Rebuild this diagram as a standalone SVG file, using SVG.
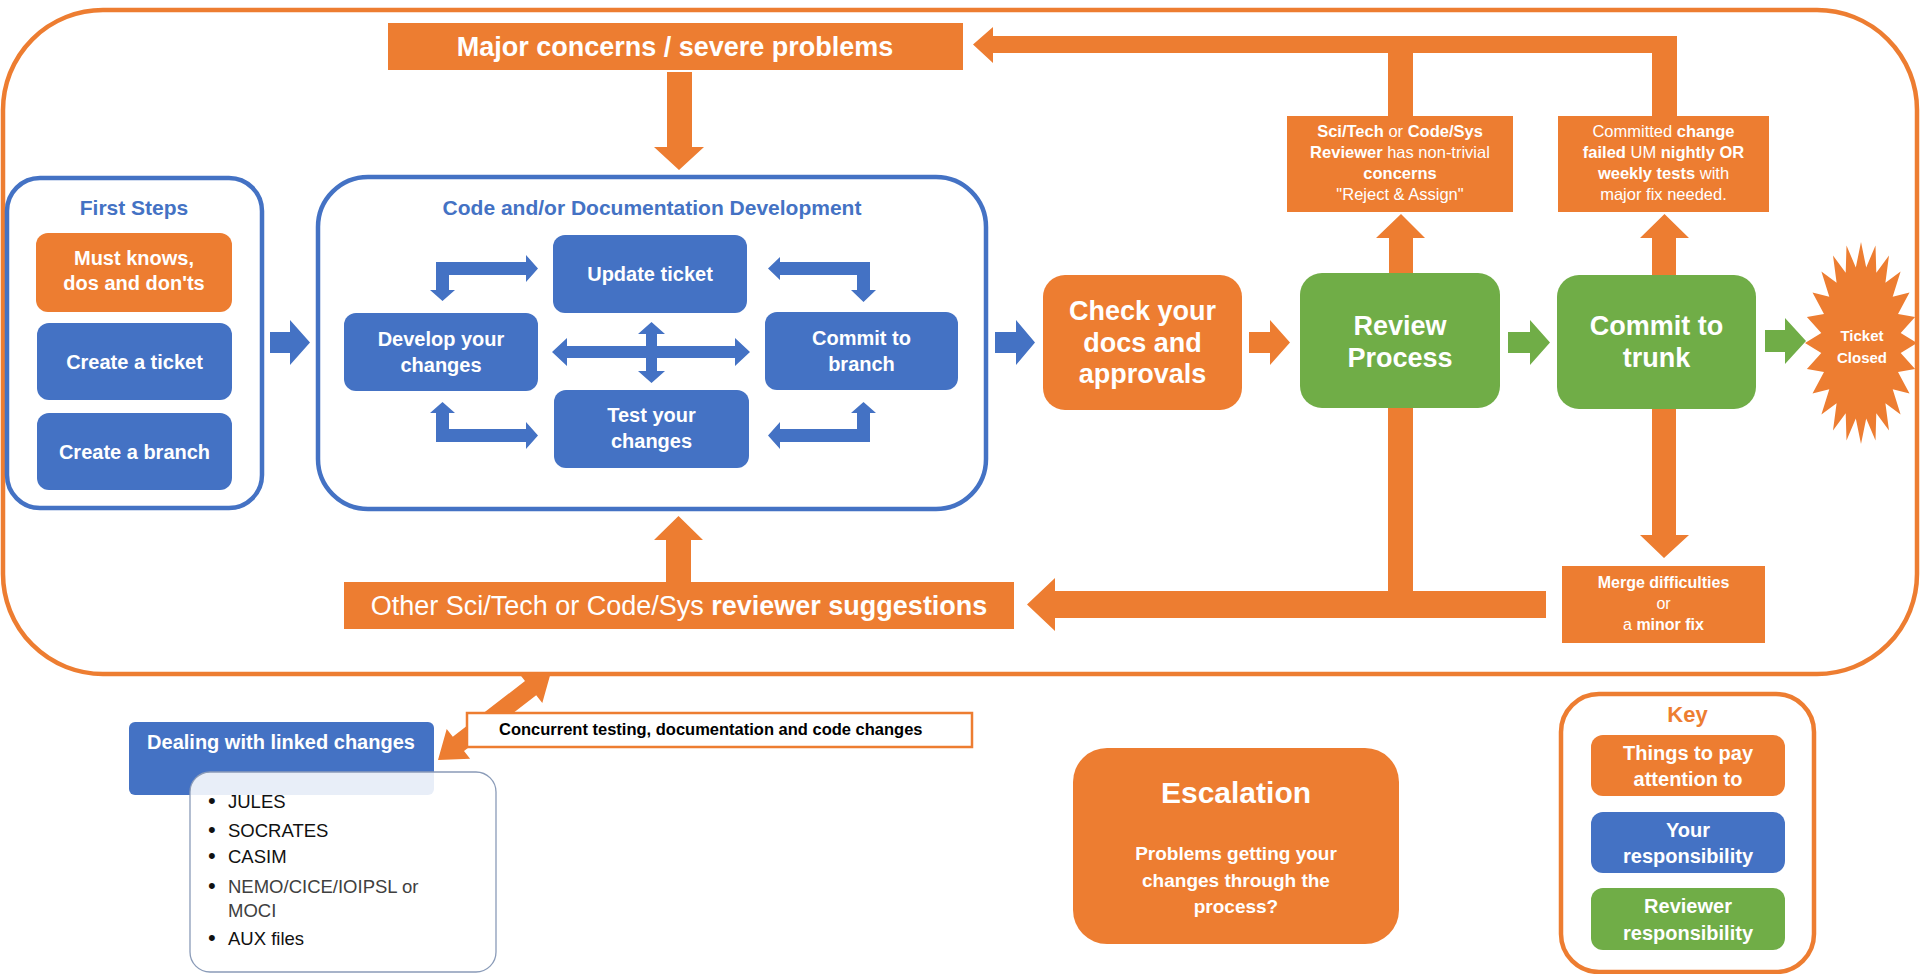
<svg xmlns="http://www.w3.org/2000/svg" width="1920" height="974" viewBox="0 0 1920 974">
<style>
.o{fill:#ED7D31}.b{fill:#4472C4}.g{fill:#70AD47}
text{font-family:"Liberation Sans",Arial,sans-serif}
.w{fill:#fff}.bd{font-weight:bold}.m{text-anchor:middle}
.frame{fill:none;stroke:#ED7D31;stroke-width:4.5}
.bframe{fill:none;stroke:#4472C4;stroke-width:4.5}
</style>
<rect width="1920" height="974" fill="#fff"/>
<rect id="outer-frame" class="frame" x="3" y="10" width="1914" height="664" rx="100"/>

<g id="connectors">
  <polygon class="o" points="667,72 692,72 692,147 704,147 679,170 654,147 667,147"/>
  <path class="o" d="M973,44.5 L993,27 L993,36 L1677,36 L1677,116 L1652,116 L1652,53 L1413,53 L1413,116 L1388,116 L1388,53 L993,53 L993,63 Z"/>
  <polygon class="o" points="1389,274 1389,238 1376,238 1401,214 1425,238 1413,238 1413,274"/>
  <polygon class="o" points="1652,276 1652,238 1640,238 1664.5,214 1689,238 1676,238 1676,276"/>
  <path class="o" d="M1027,604.5 L1055,578 L1055,591 L1388,591 L1388,406 L1413,406 L1413,591 L1546,591 L1546,618 L1055,618 L1055,631 Z"/>
  <polygon class="o" points="1652,407 1676,407 1676,535 1689,535 1664,558 1640,535 1652,535"/>
  <polygon class="o" points="666,584 666,540 654,540 678.5,516 703,540 691,540 691,584"/>
  <polygon class="b" points="270,332 290,332 290,320 310,342.5 290,365 290,353 270,353"/>
  <polygon class="b" points="995,332 1016,332 1016,320 1035,342.5 1016,365 1016,353 995,353"/>
  <polygon class="o" points="1249,332 1270,332 1270,320 1290,342.5 1270,365 1270,353 1249,353"/>
  <polygon class="g" points="1508,332 1530,332 1530,320 1550,342.5 1530,365 1530,353 1508,353"/>
  <polygon class="g" points="1765,330 1785,330 1785,318 1806,341 1785,364 1785,352 1765,352"/>
  <path class="b" d="M436,262 L526,262 L526,255 L538,268.5 L526,282 L526,275 L449,275 L449,290 L455,290 L442.5,301 L430,290 L436,290 Z"/>
  <path class="b" d="M768,268.5 L780,257 L780,262 L870,262 L870,290 L876,290 L863.5,302 L851,290 L857,290 L857,275 L780,275 L780,280 Z"/>
  <path class="b" d="M442.5,402 L455,413 L449,413 L449,429 L526,429 L526,422 L538,435.5 L526,449 L526,442 L436,442 L436,413 L430,413 Z"/>
  <path class="b" d="M768,435.5 L780,422 L780,429 L857,429 L857,413 L851,413 L863.5,402 L876,413 L870,413 L870,442 L780,442 L780,449 Z"/>
  <path class="b" d="M552,352 L567,338 L567,346 L735,346 L735,338 L750,352 L735,366 L735,358 L567,358 L567,366 Z"/>
  <path class="b" d="M651.5,322 L665,334 L657,334 L657,371 L665,371 L651.5,383 L638,371 L646,371 L646,334 L638,334 Z"/>
  <polygon class="o" points="438,760 470.1,758.8 464,751 536.2,695.2 542.3,703 551,672 518.9,673.2 525,681 452.8,736.8 446.7,729"/>
</g>

<g id="major-concerns">
  <rect class="o" x="388" y="23" width="575" height="47"/>
  <text class="w bd m" x="675" y="56" font-size="27">Major concerns / severe problems</text>
</g>

<g id="first-steps">
  <rect class="bframe" x="7" y="178" width="255" height="330" rx="33"/>
  <text class="bd m" x="134" y="215" font-size="21" fill="#4472C4">First Steps</text>
</g>
<g id="must-knows">
  <rect class="o" x="36" y="233" width="196" height="79" rx="12"/>
  <text class="w bd m" x="134" y="265" font-size="20">Must knows,</text>
  <text class="w bd m" x="134" y="290" font-size="20">dos and don'ts</text>
</g>
<g id="create-ticket">
  <rect class="b" x="37" y="323" width="195" height="77" rx="12"/>
  <text class="w bd m" x="134.5" y="368.5" font-size="20">Create a ticket</text>
</g>
<g id="create-branch">
  <rect class="b" x="37" y="413" width="195" height="77" rx="12"/>
  <text class="w bd m" x="134.5" y="458.5" font-size="20">Create a branch</text>
</g>

<g id="code-dev">
  <rect class="bframe" x="318" y="177" width="668" height="332" rx="50"/>
  <text class="bd m" x="652" y="215" font-size="21" fill="#4472C4">Code and/or Documentation Development</text>
</g>
<g id="update-ticket">
  <rect class="b" x="553" y="235" width="194" height="78" rx="12"/>
  <text class="w bd m" x="650" y="281" font-size="20">Update ticket</text>
</g>
<g id="develop">
  <rect class="b" x="344" y="313" width="194" height="78" rx="12"/>
  <text class="w bd m" x="441" y="346" font-size="20">Develop your</text>
  <text class="w bd m" x="441" y="372" font-size="20">changes</text>
</g>
<g id="commit-branch">
  <rect class="b" x="765" y="312" width="193" height="78" rx="12"/>
  <text class="w bd m" x="861.5" y="345" font-size="20">Commit to</text>
  <text class="w bd m" x="861.5" y="371" font-size="20">branch</text>
</g>
<g id="test-changes">
  <rect class="b" x="554" y="390" width="195" height="78" rx="12"/>
  <text class="w bd m" x="651.5" y="422" font-size="20">Test your</text>
  <text class="w bd m" x="651.5" y="448" font-size="20">changes</text>
</g>

<g id="check-docs">
  <rect class="o" x="1043" y="275" width="199" height="135" rx="22"/>
  <text class="w bd m" x="1142.5" y="320" font-size="27">Check your</text>
  <text class="w bd m" x="1142.5" y="352" font-size="27">docs and</text>
  <text class="w bd m" x="1142.5" y="383" font-size="27">approvals</text>
</g>
<g id="review-process">
  <rect class="g" x="1300" y="273" width="200" height="135" rx="22"/>
  <text class="w bd m" x="1400" y="335" font-size="27">Review</text>
  <text class="w bd m" x="1400" y="367" font-size="27">Process</text>
</g>
<g id="commit-trunk">
  <rect class="g" x="1557" y="275" width="199" height="134" rx="22"/>
  <text class="w bd m" x="1656.5" y="335" font-size="27">Commit to</text>
  <text class="w bd m" x="1656.5" y="367" font-size="27">trunk</text>
</g>
<g id="ticket-closed">
  <polygon class="o" points="1861,242 1866.2,267.6 1875.5,245.4 1876.3,272.8 1889,255.5 1885.4,282.7 1900.6,271.6 1892.7,296.7 1909.5,292.5 1898,313.9 1915.1,316.9 1900.7,333.1 1917,343 1900.7,352.9 1915.1,369.1 1898,372.1 1909.5,393.5 1892.7,389.3 1900.6,414.4 1885.4,403.3 1889,430.5 1876.3,413.2 1875.5,440.6 1866.2,418.4 1861,444 1855.8,418.4 1846.5,440.6 1845.7,413.2 1833,430.5 1836.6,403.3 1821.4,414.4 1829.3,389.3 1812.5,393.5 1824,372.1 1806.9,369.1 1821.3,352.9 1805,343 1821.3,333.1 1806.9,316.9 1824,313.9 1812.5,292.5 1829.3,296.7 1821.4,271.6 1836.6,282.7 1833,255.5 1845.7,272.8 1846.5,245.4 1855.8,267.6"/>
  <text class="w bd m" x="1862" y="341" font-size="15">Ticket</text>
  <text class="w bd m" x="1862" y="363" font-size="15">Closed</text>
</g>

<g id="reviewer-concerns">
  <rect class="o" x="1287" y="116" width="226" height="96"/>
  <text class="w m" x="1400" y="137" font-size="16.5"><tspan class="bd">Sci/Tech</tspan> or <tspan class="bd">Code/Sys</tspan></text>
  <text class="w m" x="1400" y="158" font-size="16.5"><tspan class="bd">Reviewer</tspan> has non-trivial</text>
  <text class="w m bd" x="1400" y="179" font-size="16.5">concerns</text>
  <text class="w m" x="1400" y="200" font-size="16.5">"Reject &amp; Assign"</text>
</g>
<g id="failed-tests">
  <rect class="o" x="1558" y="116" width="211" height="96"/>
  <text class="w m" x="1663.5" y="137" font-size="16.5">Committed <tspan class="bd">change</tspan></text>
  <text class="w m" x="1663.5" y="158" font-size="16.5"><tspan class="bd">failed</tspan> UM <tspan class="bd">nightly OR</tspan></text>
  <text class="w m" x="1663.5" y="179" font-size="16.5"><tspan class="bd">weekly tests</tspan> with</text>
  <text class="w m" x="1663.5" y="200" font-size="16.5">major fix needed.</text>
</g>
<g id="merge-difficulties">
  <rect class="o" x="1562" y="566" width="203" height="77"/>
  <text class="w m bd" x="1663.5" y="588" font-size="16">Merge difficulties</text>
  <text class="w m" x="1663.5" y="609" font-size="16">or</text>
  <text class="w m" x="1663.5" y="630" font-size="16">a <tspan class="bd">minor fix</tspan></text>
</g>
<g id="reviewer-suggestions">
  <rect class="o" x="344" y="582" width="670" height="47"/>
  <text class="w m" x="679" y="615" font-size="27">Other Sci/Tech or Code/Sys <tspan class="bd">reviewer suggestions</tspan></text>
</g>

<g id="concurrent">
  <rect x="467" y="713" width="505" height="34" fill="#fff" stroke="#ED7D31" stroke-width="2.5"/>
  <text class="bd" x="499" y="735" font-size="16.5" fill="#000">Concurrent testing, documentation and code changes</text>
</g>
<g id="linked-changes">
  <rect class="b" x="129" y="722" width="305" height="73" rx="6"/>
  <text class="w bd m" x="281" y="749" font-size="20">Dealing with linked changes</text>
  <rect x="190" y="772" width="306" height="200" rx="20" fill="#fff" fill-opacity="0.88" stroke="#8A9BB8" stroke-width="1.3"/>
  <g font-size="18.5" fill="#111">
    <text x="208" y="808" font-size="22">•</text><text x="228" y="808">JULES</text>
    <text x="208" y="837" font-size="22">•</text><text x="228" y="837">SOCRATES</text>
    <text x="208" y="863" font-size="22">•</text><text x="228" y="863">CASIM</text>
    <text x="208" y="893" font-size="22">•</text><text x="228" y="893" fill="#404040">NEMO/CICE/IOIPSL or</text>
    <text x="228" y="917" fill="#404040">MOCI</text>
    <text x="208" y="945" font-size="22">•</text><text x="228" y="945">AUX files</text>
  </g>
</g>

<g id="escalation">
  <rect class="o" x="1073" y="748" width="326" height="196" rx="34"/>
  <text class="w bd m" x="1236" y="803" font-size="30">Escalation</text>
  <text class="w bd m" x="1236" y="860" font-size="19">Problems getting your</text>
  <text class="w bd m" x="1236" y="887" font-size="19">changes through the</text>
  <text class="w bd m" x="1236" y="913" font-size="19">process?</text>
</g>

<g id="key">
  <rect x="1561" y="694" width="253" height="278" rx="38" fill="#fff" stroke="#ED7D31" stroke-width="4.5"/>
  <text class="bd m" x="1687.5" y="722" font-size="22" fill="#ED7D31">Key</text>
  <rect class="o" x="1591" y="735" width="194" height="61" rx="12"/>
  <text class="w bd m" x="1688" y="760" font-size="20">Things to pay</text>
  <text class="w bd m" x="1688" y="786" font-size="20">attention to</text>
  <rect class="b" x="1591" y="812" width="194" height="61" rx="12"/>
  <text class="w bd m" x="1688" y="837" font-size="20">Your</text>
  <text class="w bd m" x="1688" y="863" font-size="20">responsibility</text>
  <rect class="g" x="1591" y="888" width="194" height="62" rx="12"/>
  <text class="w bd m" x="1688" y="913" font-size="20">Reviewer</text>
  <text class="w bd m" x="1688" y="940" font-size="20">responsibility</text>
</g>
</svg>
